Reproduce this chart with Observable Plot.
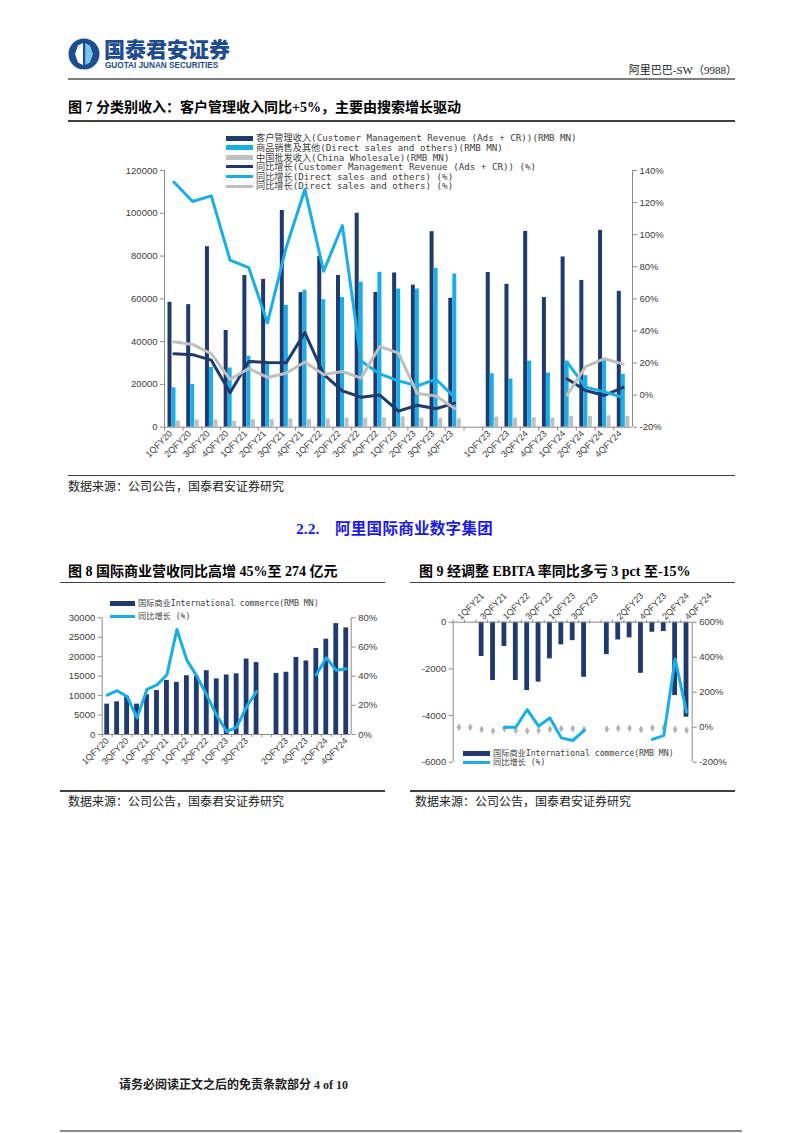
<!DOCTYPE html>
<html><head><meta charset="utf-8">
<script src="https://cdn.jsdelivr.net/npm/d3@7"></script>
<script src="https://cdn.jsdelivr.net/npm/@observablehq/plot@0.6"></script>
<style>
html,body{margin:0;padding:0;background:#fff;}
#page{position:relative;width:802px;height:1133px;overflow:hidden;background:#fff;}
#page div{white-space:nowrap;}
</style></head><body><div id="page"></div>
<script>
// ---------------- DATA ----------------
const fig7Labels = ["1QFY20","2QFY20","3QFY20","4QFY20","1QFY21","2QFY21","3QFY21","4QFY21","1QFY22","2QFY22","3QFY22","4QFY22","1QFY23","2QFY23","3QFY23","4QFY23","","1QFY23","2QFY23","3QFY24","4QFY23","1QFY24","2QFY24","3QFY24","4QFY24"];
const fig7Cmr = [58400,57300,84400,45200,70900,69100,101300,62900,79900,70900,100000,63000,72100,66400,91400,60300,null,72300,66800,91500,60600,79600,68600,92000,63500];
const fig7Direct = [18400,20000,28000,27700,33200,29500,57000,64000,59600,60600,67800,72400,64600,64600,74300,71600,null,25000,22500,30900,25300,30900,24100,31400,24700];
const fig7Wholesale = [2900,3400,3400,2800,3600,3600,3900,3600,3900,4200,4200,4400,4800,4200,4200,3900,null,4800,4200,4400,4200,5100,5000,5300,5000];
const fig7CmrYoY = [25.8,25.2,21.8,1.5,21,20.3,20.1,39,13,2.6,-1.3,0,-10,-6.3,-8.5,-5,null,null,null,null,null,10.2,2.9,-0.2,4.9];
const fig7DirectYoY = [132.8,120.7,124.2,84.2,79.5,45,92,128.2,77.2,105.7,21.3,13.2,8.9,5.8,9.9,-1.4,null,null,null,null,null,20.6,5,2,-1.5];
const fig7WholesaleYoY = [33.2,31.6,25.8,9.8,16.6,11,13.6,20.6,12.8,14.7,10.6,30.3,26.2,1,-0.5,-8.4,null,null,null,null,null,0,17.8,22.7,19.3];
const fig7Legend = ["客户管理收入(Customer Management Revenue (Ads + CR))(RMB MN)","商品销售及其他(Direct sales and others)(RMB MN)","中国批发收入(China Wholesale)(RMB MN)","同比增长(Customer Management Revenue (Ads + CR)) (%)","同比增长(Direct sales and others) (%)","同比增长(Direct sales and others) (%)"];
const fig7LeftTicks = [0,20000,40000,60000,80000,100000,120000];
const fig7RightTicks = [-20,0,20,40,60,80,100,120,140];

const fig8Labels = ["1QFY20","2QFY20","3QFY20","4QFY20","1QFY21","2QFY21","3QFY21","4QFY21","1QFY22","2QFY22","3QFY22","4QFY22","1QFY23","2QFY23","3QFY23","4QFY23","","1QFY23","2QFY23","3QFY23","4QFY23","1QFY24","2QFY24","3QFY24","4QFY24"];
const fig8Revenue = [7800,8400,9800,7800,10200,11300,13900,13400,15100,15000,16400,14300,15300,15600,19400,18500,null,15700,16000,19800,18900,22100,24500,28500,27400];
const fig8YoY = [27,30,26,11.4,31,34,41,72,51,40,27,13,2,5,19,29.5,null,null,null,null,null,41,52.6,44,45];
const fig8Legend = ["国际商业International commerce(RMB MN)","同比增长 (%)"];
const fig8LeftTicks = [0,5000,10000,15000,20000,25000,30000];
const fig8RightTicks = [0,20,40,60,80];

const fig9Labels = ["1QFY21","2QFY21","3QFY21","4QFY21","1QFY22","2QFY22","3QFY22","4QFY22","1QFY23","2QFY23","3QFY23","4QFY23","","1QFY23","2QFY23","3QFY23","4QFY23","1QFY24","2QFY24","3QFY24","4QFY24"];
const fig9Ebita = [null,null,-1470,-2500,-1040,-2500,-2930,-2570,-1570,-970,-790,-2360,null,-1390,-760,-670,-2190,-430,-400,-3140,-4070];
const fig9YoY = [null,null,null,null,0,0,100,6,53,-61,-76,-19,null,null,null,null,null,-70,-48,390,86];
const fig9Margin = [0,0,-13,-21,-8,-17,-21,-19,-11,-8,-8,-13,null,-10,-6,-6,-13,-4,-4,-13,-17];
const fig9Legend = ["国际商业International commerce(RMB MN)","同比增长 (%)"];
const fig9LeftTicks = [-6000,-4000,-2000,0];
const fig9RightTicks = [-200,0,200,400,600];

// ---------------- STYLE ----------------
const DARK = "#1f3a6e", CYAN = "#17aeea", GRAY = "#bfbfbf", AXIS = "#8c8c8c", TXT = "#404040";
const SERIF = "'Liberation Serif','Noto Sans CJK SC',serif";
const SANS = "'Liberation Sans','Noto Sans CJK SC',sans-serif";
const MONO = "'DejaVu Sans Mono','Noto Sans CJK SC',monospace";
const page = document.getElementById("page");

function el(tag, css) { const e = document.createElement(tag); Object.assign(e.style, {position: "absolute"}, css); page.appendChild(e); return e; }
function txt(str, o) {
  const css = {fontSize: o.size + "px", lineHeight: o.size + "px", top: (o.cy - o.size / 2) + "px",
    fontFamily: o.family || SERIF, fontWeight: o.weight || 400, color: o.color || "#000", letterSpacing: (o.ls || 0) + "px"};
  if (o.right != null) css.right = (802 - o.right) + "px"; else css.left = o.left + "px";
  if (o.maxW) { css.width = o.maxW + "px"; css.overflow = "hidden"; }
  const e = el("div", css); e.textContent = str; return e;
}
function hline(x1, x2, y, h, color) { return el("div", {left: x1 + "px", top: (y - h / 2) + "px", width: (x2 - x1) + "px", height: h + "px", background: color}); }
function legendRow(kind, color, label, x, cy, sw, size, maxW) {
  el("div", {left: x + "px", top: (cy - (kind === "bar" ? 2.5 : 1.5)) + "px", width: sw + "px", height: (kind === "bar" ? 5 : 3) + "px", background: color});
  txt(label, {left: x + sw + 3, cy, size, family: MONO, color: TXT, maxW});
}
function dual(left, top, w, h, a, b) {
  const box = el("div", {left: left + "px", top: top + "px", width: w + "px", height: h + "px"});
  for (const p of [a, b]) { p.style.position = "absolute"; p.style.left = "0px"; p.style.top = "0px"; box.appendChild(p); }
}
const svgStyle = {fontFamily: "'Liberation Sans',Arial,sans-serif", fontSize: "9.5px", background: "none", overflow: "visible", color: TXT};

// ---------------- HEADER ----------------
const logo = el("div", {left: "68px", top: "38px", width: "32px", height: "32px"});
logo.innerHTML = '<svg width="32" height="32" viewBox="0 0 32 32"><circle cx="16" cy="16" r="15.5" fill="#1d4d8f"/><path d="M16 4.5 L22 7.5 L25 16 L22 24.5 L16 27.5 Z" fill="#79c6ec"/><path d="M16 4.5 L10 7.5 L7 16 L10 24.5 L16 27.5 Z" fill="#ffffff"/><rect x="15" y="4" width="2.2" height="24" fill="#1d4d8f"/></svg>';
txt("国泰君安证券", {left: 104, cy: 49, size: 21, family: SANS, weight: 900, color: "#1d4d8f"});
txt("GUOTAI JUNAN SECURITIES", {left: 105, cy: 66, size: 8.2, family: SANS, weight: 700, color: "#1d4d8f"});
txt("阿里巴巴-SW（9988）", {right: 737, cy: 70, size: 11, family: SERIF, color: "#222"});
hline(68, 735, 79, 2, "#7f7f7f");

// ---------------- FIGURE 7 ----------------
txt("图 7 分类别收入：客户管理收入同比+5%，主要由搜索增长驱动", {left: 68, cy: 108, size: 14, weight: 700});
hline(68, 735, 121, 1.5, "#404040");
fig7Legend.forEach((lab, k) => {
  const colors = [DARK, CYAN, GRAY, DARK, CYAN, GRAY];
  legendRow(k < 3 ? "bar" : "line", colors[k], lab, 226, [138, 147.6, 157.2, 166.8, 176.4, 186][k], 27, 9.2);
});
{
  const idx = d3.range(fig7Labels.length);
  const W = 560, H = 350, L = 64, R = 28, T = 40, B = 53.3;
  const bw = (W - L - R) / idx.length;
  const rows = idx.map(i => ({i, cmr: fig7Cmr[i], dir: fig7Direct[i], wh: fig7Wholesale[i], cy: fig7CmrYoY[i], dy: fig7DirectYoY[i], wy: fig7WholesaleYoY[i]}));
  const xs = {type: "band", domain: idx, padding: 0, round: false, label: null};
  const a = Plot.plot({
    width: W, height: H, marginLeft: L, marginRight: R, marginTop: T, marginBottom: B, style: svgStyle,
    x: xs, y: {domain: [0, 120000], label: null},
    marks: [
      Plot.barY(rows.filter(d => d.cmr != null), {x: "i", y: "cmr", fill: DARK, insetLeft: 3.5, insetRight: bw - 7.5}),
      Plot.barY(rows.filter(d => d.dir != null), {x: "i", y: "dir", fill: CYAN, insetLeft: 7.5, insetRight: bw - 11.5}),
      Plot.barY(rows.filter(d => d.wh != null), {x: "i", y: "wh", fill: GRAY, insetLeft: 12, insetRight: bw - 16}),
      Plot.ruleY([0], {stroke: AXIS}),
      Plot.ruleX([0], {dx: -bw / 2, stroke: AXIS}),
      Plot.axisY({ticks: fig7LeftTicks, tickSize: 4, tickPadding: 3, tickFormat: d => String(d), stroke: AXIS, fill: TXT, label: null}),
      Plot.axisX({ticks: idx, tickSize: 4, tickFormat: () => "", dx: -bw / 2, stroke: AXIS, label: null}),
      Plot.axisX({ticks: idx, tickSize: 0, tickPadding: 5, tickRotate: -45, tickFormat: i => fig7Labels[i], fill: TXT, fontSize: 9, dx: -3, label: null})
    ]
  });
  const b = Plot.plot({
    width: W, height: H, marginLeft: L, marginRight: R, marginTop: T, marginBottom: B, style: svgStyle,
    x: {...xs, axis: null}, y: {domain: [-20, 140], label: null},
    marks: [
      Plot.line(rows, {x: "i", y: "cy", stroke: DARK, strokeWidth: 3}),
      Plot.line(rows, {x: "i", y: "dy", stroke: CYAN, strokeWidth: 3}),
      Plot.line(rows, {x: "i", y: "wy", stroke: GRAY, strokeWidth: 3}),
      Plot.ruleX([idx.length - 1], {dx: bw / 2, stroke: AXIS}),
      Plot.axisY({anchor: "right", ticks: fig7RightTicks, tickSize: 4, tickPadding: 3, tickFormat: d => d + "%", stroke: AXIS, fill: TXT, label: null})
    ]
  });
  dual(100, 130, W, H, a, b);
}
hline(68, 735, 475.5, 1.5, "#404040");
txt("数据来源：公司公告，国泰君安证券研究", {left: 68, cy: 487, size: 12, color: "#222"});

// ---------------- SECTION ----------------
txt("2.2.", {left: 296, cy: 529, size: 15.5, weight: 700, color: "#1a1ae6"});
txt("阿里国际商业数字集团", {left: 335, cy: 529, size: 15.5, weight: 700, color: "#1a1ae6", ls: 0.3});

// ---------------- FIGURE 8 ----------------
txt("图 8 国际商业营收同比高增 45%至 274 亿元", {left: 68, cy: 572, size: 14, weight: 700});
hline(60, 385, 582.5, 1.5, "#404040");
legendRow("bar", DARK, fig8Legend[0], 110, 603, 25, 8.2);
legendRow("line", CYAN, fig8Legend[1], 110, 616, 25, 8.2);
{
  const idx = d3.range(fig8Labels.length);
  const W = 330, H = 190, L = 41.7, R = 39.3, T = 22.3, B = 51;
  const bw = (W - L - R) / idx.length;
  const rows = idx.map(i => ({i, v: fig8Revenue[i], y: fig8YoY[i]}));
  const ticks = idx.filter(i => i % 2 === 0 && fig8Labels[i]);
  const xs = {type: "band", domain: idx, padding: 0, round: false, label: null};
  const a = Plot.plot({
    width: W, height: H, marginLeft: L, marginRight: R, marginTop: T, marginBottom: B, style: svgStyle,
    x: xs, y: {domain: [0, 30000], label: null},
    marks: [
      Plot.barY(rows.filter(d => d.v != null), {x: "i", y: "v", fill: DARK, insetLeft: (bw - 4.8) / 2, insetRight: (bw - 4.8) / 2}),
      Plot.ruleY([0], {stroke: AXIS}),
      Plot.ruleX([0], {dx: -bw / 2, stroke: AXIS}),
      Plot.axisY({ticks: fig8LeftTicks, tickSize: 4, tickPadding: 3, tickFormat: d => String(d), stroke: AXIS, fill: TXT, label: null}),
      Plot.axisX({ticks: idx, tickSize: 3, tickFormat: () => "", dx: -bw / 2, stroke: AXIS, label: null}),
      Plot.axisX({ticks, tickSize: 0, tickPadding: 5, tickRotate: -45, tickFormat: i => fig8Labels[i], fill: TXT, fontSize: 9, label: null})
    ]
  });
  const b = Plot.plot({
    width: W, height: H, marginLeft: L, marginRight: R, marginTop: T, marginBottom: B, style: svgStyle,
    x: {...xs, axis: null}, y: {domain: [0, 80], label: null},
    marks: [
      Plot.line(rows, {x: "i", y: "y", stroke: CYAN, strokeWidth: 3}),
      Plot.ruleX([idx.length - 1], {dx: bw / 2, stroke: AXIS}),
      Plot.axisY({anchor: "right", ticks: fig8RightTicks, tickSize: 4, tickPadding: 3, tickFormat: d => d + "%", stroke: AXIS, fill: TXT, label: null})
    ]
  });
  dual(60, 595, W, H, a, b);
}
hline(60, 385, 791, 1.5, "#404040");
txt("数据来源：公司公告，国泰君安证券研究", {left: 68, cy: 802, size: 12, color: "#222"});

// ---------------- FIGURE 9 ----------------
txt("图 9 经调整 EBITA 率同比多亏 3 pct 至-15%", {left: 419, cy: 572, size: 14, weight: 700});
hline(410, 735, 582.5, 1.5, "#404040");
{
  const idx = d3.range(fig9Labels.length);
  const W = 330, H = 190, L = 52.7, R = 38.3, T = 26.7, B = 23.3;
  const bw = (W - L - R) / idx.length;
  const rows = idx.map(i => ({i, v: fig9Ebita[i], y: fig9YoY[i], m: fig9Margin[i]}));
  const ticks = idx.filter(i => i % 2 === 0 && fig9Labels[i]);
  const xs = {type: "band", domain: idx, padding: 0, round: false, label: null};
  const a = Plot.plot({
    width: W, height: H, marginLeft: L, marginRight: R, marginTop: T, marginBottom: B, style: svgStyle,
    x: xs, y: {domain: [-6000, 0], label: null},
    marks: [
      Plot.barY(rows.filter(d => d.v != null), {x: "i", y: "v", fill: DARK, insetLeft: (bw - 4.8) / 2, insetRight: (bw - 4.8) / 2}),
      Plot.ruleY([0], {stroke: AXIS}),
      Plot.ruleX([0], {dx: -bw / 2, stroke: AXIS}),
      Plot.axisY({ticks: fig9LeftTicks, tickSize: 4, tickPadding: 3, tickFormat: d => String(d), stroke: AXIS, fill: TXT, label: null}),
      Plot.axisX({anchor: "top", ticks: idx, tickSize: 3, tickFormat: () => "", dx: -bw / 2, stroke: AXIS, label: null}),
      Plot.axisX({anchor: "top", ticks, tickSize: 0, tickPadding: 4, tickRotate: -45, tickFormat: i => fig9Labels[i], fill: TXT, fontSize: 9, label: null})
    ]
  });
  const b = Plot.plot({
    width: W, height: H, marginLeft: L, marginRight: R, marginTop: T, marginBottom: B, style: svgStyle,
    x: {...xs, axis: null}, y: {domain: [-200, 600], label: null},
    marks: [
      Plot.dot(rows.filter(d => d.m != null), {x: "i", y: "m", symbol: "diamond", r: 2.4, fill: "#b3b3b3", stroke: "none"}),
      Plot.line(rows, {x: "i", y: "y", stroke: CYAN, strokeWidth: 3}),
      Plot.ruleX([idx.length - 1], {dx: bw / 2, stroke: AXIS}),
      Plot.axisY({anchor: "right", ticks: fig9RightTicks, tickSize: 4, tickPadding: 3, tickFormat: d => d + "%", stroke: AXIS, fill: TXT, label: null})
    ]
  });
  dual(400, 595, W, H, a, b);
}
legendRow("bar", DARK, fig9Legend[0], 463, 753, 27, 8.2, 197);
legendRow("line", CYAN, fig9Legend[1], 463, 762, 27, 8.2);
hline(410, 735, 791, 1.5, "#404040");
txt("数据来源：公司公告，国泰君安证券研究", {left: 415, cy: 802, size: 12, color: "#222"});

// ---------------- FOOTER ----------------
txt("请务必阅读正文之后的免责条款部分 4 of 10", {left: 119, cy: 1085, size: 12, weight: 700, color: "#222"});
hline(60, 742, 1131, 2, "#8c8c8c");
</script></body></html>
